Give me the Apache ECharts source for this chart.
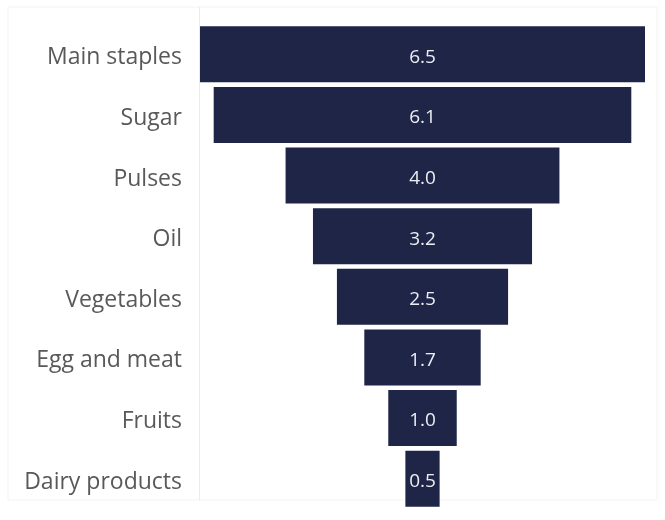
<!DOCTYPE html>
<html>
<head>
<meta charset="utf-8">
<script src="https://cdn.jsdelivr.net/npm/echarts@6/dist/echarts.min.js"></script>
<style>
  html, body { margin: 0; padding: 0; background: #ffffff; }
  #chart { width: 665px; height: 520px; }
</style>
</head>
<body>
<div id="chart"></div>
<script>
// Food groups, top to bottom
const categories = ['Main staples', 'Sugar', 'Pulses', 'Oil', 'Vegetables', 'Egg and meat', 'Fruits', 'Dairy products'];
const values = [6.5, 6.1, 4.0, 3.2, 2.5, 1.7, 1.0, 0.5];

// Each bar is centred by stacking it on an invisible spacer of half the remaining width
const maxValue = Math.max(...values);
const spacer = values.map(v => (maxValue - v) / 2);

const chart = echarts.init(document.getElementById('chart'), null, { renderer: 'canvas' });

chart.setOption({
  backgroundColor: '#ffffff',
  animation: false,
  graphic: [
    {
      type: 'rect',
      shape: { x: 8, y: 7, width: 649, height: 493 },
      style: { fill: 'none', stroke: '#f3f3f3', lineWidth: 1 },
      silent: true
    },
    {
      type: 'line',
      shape: { x1: 199.5, y1: 7, x2: 199.5, y2: 500 },
      style: { stroke: '#ebebeb', lineWidth: 1 },
      silent: true
    }
  ],
  grid: { left: 200, right: 20, top: 24, bottom: 11, containLabel: false },
  xAxis: {
    type: 'value',
    min: 0,
    max: maxValue,
    show: false
  },
  yAxis: {
    type: 'category',
    data: categories,
    inverse: true,
    axisLine: { show: false },
    axisTick: { show: false },
    axisLabel: {
      margin: 18,
      formatter: name => '{c|' + name + '}',
      rich: {
        c: {
          color: '#595959',
          fontFamily: 'Open Sans',
          fontSize: 23,
          padding: [7, 0, 0, 0]
        }
      }
    }
  },
  series: [
    {
      type: 'bar',
      stack: 'funnel',
      data: spacer,
      itemStyle: { color: 'transparent' },
      silent: true,
      barCategoryGap: '7.5%'
    },
    {
      type: 'bar',
      stack: 'funnel',
      data: values,
      barCategoryGap: '7.5%',
      itemStyle: { color: '#1e2547' },
      label: {
        show: true,
        position: 'inside',
        offset: [0, 3],
        color: '#eceef4',
        fontFamily: 'Open Sans',
        fontSize: 19,
        formatter: p => p.value.toFixed(1)
      }
    }
  ]
});
</script>
</body>
</html>
